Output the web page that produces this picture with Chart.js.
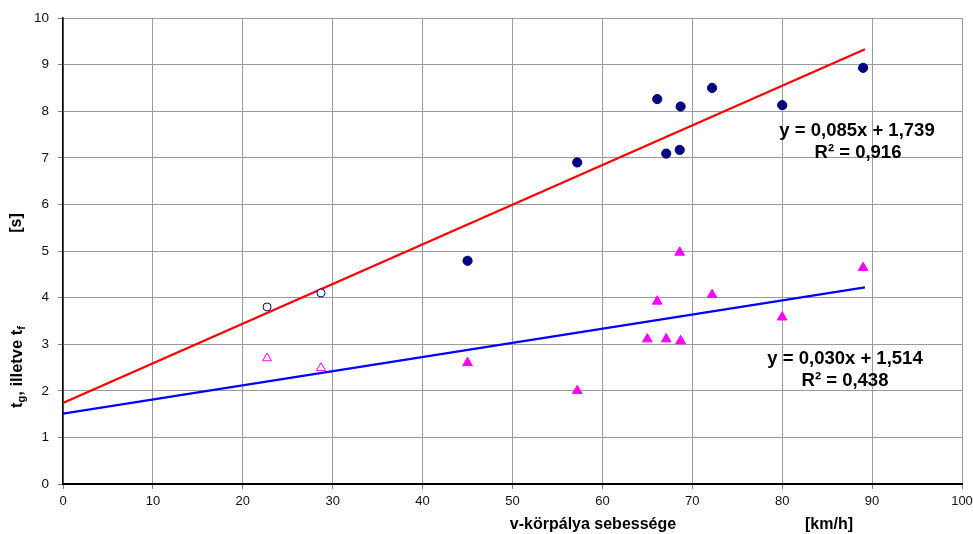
<!DOCTYPE html>
<html>
<head>
<meta charset="utf-8">
<script src="https://cdn.jsdelivr.net/npm/chart.js@4/dist/chart.umd.min.js"></script>
<style>
  html, body { margin: 0; padding: 0; background: #fff; }
  #wrap { width: 973px; height: 534px; }
</style>
</head>
<body>
<div id="wrap"><canvas id="scatterChart" width="973" height="534"></canvas></div>
<script>
// t_g pontok (kor)
var gX = [45.0, 57.2, 66.1, 67.1, 68.7, 68.6, 72.2, 80.0, 89.0];
var gY = [4.79, 6.90, 8.26, 7.09, 8.10, 7.17, 8.50, 8.13, 8.93];
var gOpenX = [22.7, 28.7];
var gOpenY = [3.80, 4.10];

// t_f pontok (haromszog)
var fX = [45.0, 57.2, 65.0, 66.1, 67.1, 68.6, 68.7, 72.2, 80.0, 89.0];
var fY = [2.60, 2.00, 3.11, 3.92, 3.11, 4.97, 3.07, 4.06, 3.58, 4.64];
var fOpenX = [22.7, 28.7];
var fOpenY = [2.70, 2.49];

// trendvonalak vegpontjai
var redTrendX = [0, 89.2];
var redTrendY = [1.74, 9.33];
var blueTrendX = [0, 89.2];
var blueTrendY = [1.51, 4.22];

var xTicks = [0, 10, 20, 30, 40, 50, 60, 70, 80, 90, 100];
var yTicks = [0, 1, 2, 3, 4, 5, 6, 7, 8, 9, 10];

function pts(xs, ys) {
    var out = [];
    for (var i = 0; i < xs.length; i++) out.push({x: xs[i], y: ys[i]});
    return out;
}

// feliratok (egyenletek, tengelycimek)
var textPlugin = {
    id: 'textPlugin',
    afterDraw: function (chart) {
        var ctx = chart.ctx;
        ctx.save();
        ctx.fillStyle = '#000';
        ctx.textAlign = 'center';
        ctx.textBaseline = 'middle';
        ctx.font = 'bold 18.5px "Liberation Sans", Arial, sans-serif';
        ctx.fillText('y = 0,085x + 1,739', 857, 131);
        ctx.fillText('R² = 0,916', 858, 153);
        ctx.fillText('y = 0,030x + 1,514', 845, 359);
        ctx.fillText('R² = 0,438', 845, 381);

        ctx.font = 'bold 16px "Liberation Sans", Arial, sans-serif';
        ctx.fillText('v-körpálya sebessége', 593, 525);
        ctx.fillText('[km/h]', 829, 525);

        // y tengely cim, elforgatva
        ctx.translate(17, 0);
        ctx.rotate(-Math.PI / 2);
        ctx.fillText('[s]', -223, 0);

        var parts = [
            {t: 't', sub: false},
            {t: 'g', sub: true},
            {t: ', illetve t', sub: false},
            {t: 'f', sub: true}
        ];
        var big = 'bold 16.5px "Liberation Sans", Arial, sans-serif';
        var small = 'bold 11px "Liberation Sans", Arial, sans-serif';
        var total = 0;
        parts.forEach(function (p) {
            ctx.font = p.sub ? small : big;
            p.w = ctx.measureText(p.t).width;
            total += p.w;
        });
        var cx = -367 - total / 2;
        ctx.textAlign = 'left';
        parts.forEach(function (p) {
            ctx.font = p.sub ? small : big;
            ctx.fillText(p.t, cx, p.sub ? 5 : 0);
            cx += p.w;
        });
        ctx.restore();
    }
};

var ScatterData = {
    datasets: [
        {
            type: 'line',
            label: 'trend g',
            data: pts(redTrendX, redTrendY),
            borderColor: '#ff0000',
            borderWidth: 2.2,
            pointRadius: 0,
            fill: false,
            order: 5
        },
        {
            type: 'line',
            label: 'trend f',
            data: pts(blueTrendX, blueTrendY),
            borderColor: '#0000ff',
            borderWidth: 2.2,
            pointRadius: 0,
            fill: false,
            order: 5
        },
        {
            label: 'tg',
            data: pts(gX, gY),
            pointStyle: 'circle',
            pointRadius: 4.6,
            backgroundColor: '#000080',
            borderColor: '#000080',
            borderWidth: 1,
            order: 1
        },
        {
            label: 'tg nyitott',
            data: pts(gOpenX, gOpenY),
            pointStyle: 'circle',
            pointRadius: 4,
            backgroundColor: '#ffffff',
            borderColor: '#000080',
            borderWidth: 1,
            order: 1
        },
        {
            label: 'tf',
            data: pts(fX, fY),
            pointStyle: 'triangle',
            pointRadius: 5.6,
            backgroundColor: '#ff00ff',
            borderColor: '#ff00ff',
            borderWidth: 1,
            order: 1
        },
        {
            label: 'tf nyitott',
            data: pts(fOpenX, fOpenY),
            pointStyle: 'triangle',
            pointRadius: 5.2,
            backgroundColor: '#ffffff',
            borderColor: '#ff00ff',
            borderWidth: 1,
            order: 1
        }
    ]
};

var ScatterConfig = {
    type: 'scatter',
    data: ScatterData,
    plugins: [textPlugin],
    options: {
        responsive: false,
        animation: false,
        layout: {padding: {left: 0, right: 11, top: 18, bottom: 0}},
        plugins: {
            legend: {display: false},
            tooltip: {enabled: false}
        },
        scales: {
            x: {
                type: 'linear',
                min: 0,
                max: 100,
                afterBuildTicks: function (scale) {
                    scale.ticks = xTicks.map(function (v) { return {value: v}; });
                },
                afterFit: function (scale) {
                    scale.height = 50;
                    scale.paddingRight = 0;
                    scale.paddingLeft = 0;
                },
                grid: {color: '#9a9a9a', lineWidth: 1, tickLength: 5, tickColor: '#808080'},
                border: {color: '#000', width: 2},
                ticks: {
                    color: '#111',
                    padding: 5,
                    maxRotation: 0,
                    font: {family: '"Liberation Sans", Arial, sans-serif', size: 13}
                }
            },
            y: {
                type: 'linear',
                min: 0,
                max: 10,
                afterBuildTicks: function (scale) {
                    scale.ticks = yTicks.map(function (v) { return {value: v}; });
                },
                afterFit: function (scale) {
                    scale.width = 63;
                    scale.paddingTop = 0;
                    scale.paddingBottom = 0;
                },
                grid: {color: '#9a9a9a', lineWidth: 1, tickLength: 5, tickColor: '#808080'},
                border: {color: '#000', width: 1.5},
                ticks: {
                    color: '#111',
                    padding: 9,
                    font: {family: '"Liberation Sans", Arial, sans-serif', size: 13.5}
                }
            }
        }
    }
};

var scatterChart = new Chart(
    document.getElementById('scatterChart'),
    ScatterConfig
);
</script>
</body>
</html>
